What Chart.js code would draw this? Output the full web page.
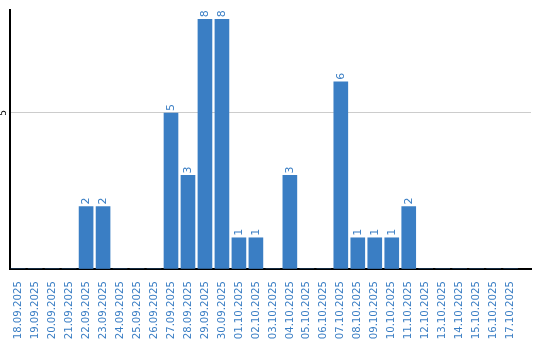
<!DOCTYPE html>
<html><head><meta charset="utf-8">
<script src="https://cdn.jsdelivr.net/npm/chart.js@4/dist/chart.umd.min.js"></script>
<style>html,body{margin:0;padding:0;background:#fff}#wrap{width:540px;height:340px}</style>
</head><body><div id="wrap"><canvas id="c" width="540" height="340"></canvas></div>
<script>
const dates = ["18.09.2025","19.09.2025","20.09.2025","21.09.2025","22.09.2025","23.09.2025","24.09.2025","25.09.2025","26.09.2025","27.09.2025","28.09.2025","29.09.2025","30.09.2025","01.10.2025","02.10.2025","03.10.2025","04.10.2025","05.10.2025","06.10.2025","07.10.2025","08.10.2025","09.10.2025","10.10.2025","11.10.2025","12.10.2025","13.10.2025","14.10.2025","15.10.2025","16.10.2025","17.10.2025"];
const counts = [0,0,0,0,2,2,0,0,0,5,3,8,8,1,1,0,3,0,0,6,1,1,1,2,0,0,0,0,0,0];
const yTickValues = [5];

const BLUE = '#3a7ec4';
const labelPlugin = {
  id: 'labels',
  afterDatasetsDraw(chart) {
    const ctx = chart.ctx;
    const meta = chart.getDatasetMeta(0);
    ctx.save();
    ctx.fillStyle = BLUE;
    ctx.font = '11px "DejaVu Sans"';
    meta.data.forEach((bar, i) => {
      const v = counts[i];
      if (!v) return;
      ctx.save();
      ctx.translate(bar.x, bar.y - 2);
      ctx.rotate(-Math.PI / 2);
      ctx.textAlign = 'left';
      ctx.textBaseline = 'middle';
      ctx.fillText(String(v), 0, 0);
      ctx.restore();
    });
    const ys = chart.scales.y;
    ctx.fillStyle = '#000';
    ctx.font = '9px "DejaVu Sans"';
    yTickValues.forEach(t => {
      ctx.save();
      ctx.translate(4, ys.getPixelForValue(t));
      ctx.rotate(-Math.PI / 2);
      ctx.textAlign = 'center';
      ctx.textBaseline = 'middle';
      ctx.fillText(String(t), 0, 0);
      ctx.restore();
    });
    ctx.restore();
  }
};

new Chart(document.getElementById('c'), {
  type: 'bar',
  data: {
    datasets: [{
      data: counts.map((v, i) => ({x: i, y: v})),
      backgroundColor: BLUE,
      barThickness: 14
    }]
  },
  options: {
    responsive: false,
    animation: false,
    layout: {padding: {top: 10, right: 9, left: 0, bottom: 0}},
    plugins: {legend: {display: false}, tooltip: {enabled: false}},
    scales: {
      x: {
        type: 'linear',
        offset: false,
        min: -0.48,
        max: 30.2,
        afterBuildTicks: (s) => { s.ticks = dates.map((_, i) => ({value: i})); },
        afterFit: (s) => { s.height = 71; s.paddingLeft = 0; s.paddingRight = 0; },
        grid: {display: false, offset: false},
        border: {display: true, color: '#000', width: 2},
        ticks: {
          autoSkip: false,
          minRotation: 90,
          maxRotation: 90,
          padding: 4,
          color: BLUE,
          font: {family: 'DejaVu Sans', size: 10.2},
          callback: (v) => dates[v] ?? ''
        }
      },
      y: {
        min: 0,
        max: 8.3,
        afterBuildTicks: (s) => { s.ticks = [0].concat(yTickValues).map(v => ({value: v})); },
        afterFit: (s) => { s.width = 10; s.paddingTop = 0; s.paddingBottom = 0; },
        ticks: {display: false},
        grid: {
          drawTicks: false,
          color: (c) => (c.tick && yTickValues.includes(c.tick.value)) ? '#cccccc' : 'rgba(0,0,0,0)'
        },
        border: {display: true, color: '#000', width: 2}
      }
    }
  },
  plugins: [labelPlugin]
});
</script>
</body></html>
